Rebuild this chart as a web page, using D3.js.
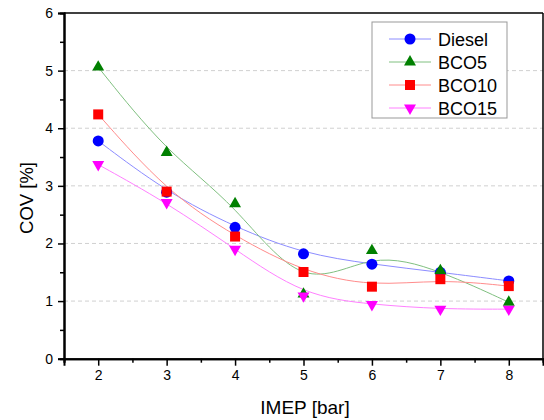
<!DOCTYPE html>
<html><head><meta charset="utf-8">
<script src="https://cdn.jsdelivr.net/npm/d3@7"></script>
<style>body{margin:0;background:#fff}svg{display:block}text{font-family:"Liberation Sans",Arial,sans-serif}</style>
</head><body><svg id="c" width="544" height="420"></svg>
<script>
const imep = [2, 3, 4, 5, 6, 7, 8];
const diesel = [3.78, 2.89, 2.28, 1.82, 1.64, 1.50, 1.35];
const bco5 = [5.06, 3.58, 2.69, 1.12, 1.875, 1.53, 0.98];
const bco10 = [4.24, 2.90, 2.12, 1.505, 1.25, 1.38, 1.26];
const bco15 = [3.37, 2.71, 1.90, 1.09, 0.94, 0.86, 0.86];
const seriesNames = ["Diesel", "BCO5", "BCO10", "BCO15"];
const xTicks = [2, 3, 4, 5, 6, 7, 8];
const yTicks = [0, 1, 2, 3, 4, 5, 6];

const series = [
  {name: seriesNames[0], vals: diesel, line: "#8c8cff", color: "#0000ff", sym: d3.symbolCircle, size: 95, rot: 0},
  {name: seriesNames[1], vals: bco5, line: "#80c080", color: "#008000", sym: d3.symbolTriangle, size: 62, rot: 0},
  {name: seriesNames[2], vals: bco10, line: "#ff8c8c", color: "#ff0000", sym: d3.symbolSquare, size: 100, rot: 0},
  {name: seriesNames[3], vals: bco15, line: "#ff80ff", color: "#ff00ff", sym: d3.symbolTriangle, size: 62, rot: 180}
];

const svg = d3.select("#c");
const L = 64, R = 543, T = 13, B = 358.7;
const x = d3.scaleLinear().domain([1.5, 8.5]).range([L, R]);
const y = d3.scaleLinear().domain([0, 6]).range([B, T]);

// gridlines
svg.append("g").selectAll("line").data([1,2,3,4,5]).join("line")
  .attr("x1", L).attr("x2", R).attr("y1", d => y(d)).attr("y2", d => y(d))
  .attr("stroke", "#d0d0d0").attr("stroke-width", 1).attr("stroke-dasharray", "4,3");

// frame top & right
svg.append("line").attr("x1", L).attr("x2", R).attr("y1", T).attr("y2", T).attr("stroke", "#000").attr("stroke-width", 1.5);
svg.append("line").attr("x1", R).attr("x2", R).attr("y1", T).attr("y2", B).attr("stroke", "#000").attr("stroke-width", 1.5);

// axes
const gx = svg.append("g").attr("transform", `translate(0,${B})`)
  .call(d3.axisBottom(x).tickValues(xTicks).tickSize(7).tickPadding(4).tickFormat(d3.format("d")));
const gxm = svg.append("g").attr("transform", `translate(0,${B})`)
  .call(d3.axisBottom(x).tickValues(d3.range(1.5, 8.6, 1)).tickSize(4).tickFormat(""));
const gy = svg.append("g").attr("transform", `translate(${L},0)`)
  .call(d3.axisLeft(y).tickValues(yTicks).tickSize(6).tickPadding(5).tickFormat(d3.format("d")));
const gym = svg.append("g").attr("transform", `translate(${L},0)`)
  .call(d3.axisLeft(y).tickValues(d3.range(0.5, 6, 1)).tickSize(4).tickFormat(""));
[gx, gxm, gy, gym].forEach(g => {
  g.select(".domain").attr("stroke", "#000").attr("stroke-width", 2);
  g.selectAll(".tick line").attr("stroke", "#000").attr("stroke-width", 1.5);
  g.selectAll("text").attr("font-size", 14).attr("fill", "#000").style("font-family", "'Liberation Sans', Arial, sans-serif");
});

// axis titles
svg.append("text").attr("x", 305).attr("y", 414).attr("text-anchor", "middle").attr("font-size", 19).text("IMEP [bar]");
svg.append("text").attr("transform", "translate(33,198) rotate(-90)").attr("text-anchor", "middle").attr("font-size", 18.5).text("COV [%]");

// curves
const lineGen = d3.line().x((d, i) => x(imep[i])).y(d => y(d)).curve(d3.curveBasis);
series.forEach(s => {
  svg.append("path").attr("d", lineGen(s.vals)).attr("fill", "none").attr("stroke", s.line).attr("stroke-width", 1);
});
series.forEach(s => {
  svg.append("g").selectAll("path").data(s.vals).join("path")
    .attr("d", d3.symbol().type(s.sym).size(s.size))
    .attr("transform", (d, i) => `translate(${x(imep[i])},${y(d)}) rotate(${s.rot})`)
    .attr("fill", s.color);
});

// legend
const lg = svg.append("g");
lg.append("rect").attr("x", 372).attr("y", 22).attr("width", 135).attr("height", 96)
  .attr("fill", "#fff").attr("stroke", "#999").attr("stroke-width", 1);
series.forEach((s, i) => {
  const cy = 39 + i * 23;
  lg.append("line").attr("x1", 389).attr("x2", 431).attr("y1", cy).attr("y2", cy).attr("stroke", s.line).attr("stroke-width", 1);
  lg.append("path").attr("d", d3.symbol().type(s.sym).size(s.size)).attr("transform", `translate(410,${cy}) rotate(${s.rot})`).attr("fill", s.color);
  lg.append("text").attr("x", 438).attr("y", cy + 6.5).attr("font-size", 18).text(s.name);
});
</script></body></html>
